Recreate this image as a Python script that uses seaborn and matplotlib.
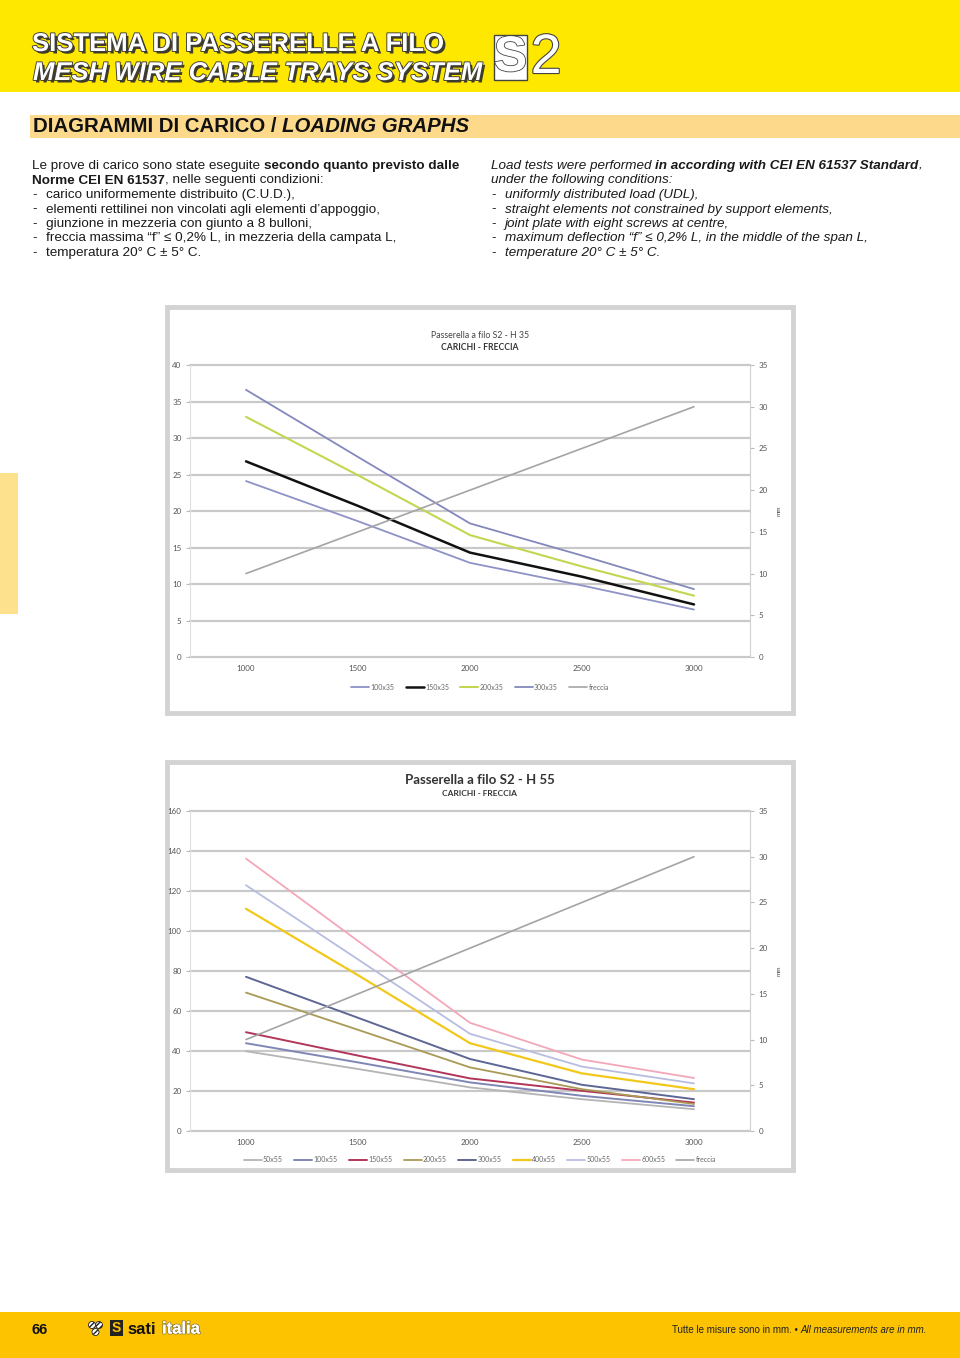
import matplotlib
matplotlib.use("Agg")
import matplotlib.pyplot as plt
import matplotlib.patches as mpatches
import matplotlib.patheffects as pe
import seaborn as sns

# ---------------- data ----------------
spans = [1000, 1500, 2000, 2500, 3000]

# H 35 trays - load (left axis) and deflection "freccia" (right axis, mm)
h35_names = ["100x35", "150x35", "200x35", "300x35"]
h35_100 = [24.1, 18.6, 12.9, 9.8, 6.5]
h35_150 = [26.8, 20.7, 14.3, 11.0, 7.2]
h35_200 = [32.9, 24.9, 16.7, 12.4, 8.4]
h35_300 = [36.6, 27.4, 18.3, 13.9, 9.3]
h35_freccia = [10, 15, 20, 25, 30]
h35_colors = ["#8e92c6", "#111111", "#c4d650", "#8488bc"]

# H 55 trays
h55_names = ["50x55", "100x55", "150x55", "200x55", "300x55", "400x55", "500x55", "600x55"]
h55_50 = [39.9, 31.0, 21.8, 15.9, 10.9]
h55_100 = [43.9, 34.3, 24.3, 17.6, 12.4]
h55_150 = [49.4, 37.7, 26.3, 20.1, 14.2]
h55_200 = [69.2, 50.6, 31.8, 20.9, 13.5]
h55_300 = [77.1, 56.6, 36.0, 23.1, 15.9]
h55_400 = [111.1, 77.9, 43.9, 28.8, 20.9]
h55_500 = [122.9, 85.8, 48.6, 32.2, 23.8]
h55_600 = [136.2, 95.0, 54.1, 35.7, 26.5]
h55_freccia = [10, 15, 20, 25, 30]
h55_colors = ["#b4b4b4", "#7f86b6", "#b2365a", "#a89a55", "#5e6794", "#f2c81a", "#b7bde0", "#f4a7b8"]

W, H = 960, 1358

sns.set_style("white")
plt.rcParams["font.family"] = ["Liberation Sans", "DejaVu Sans"]

fig = plt.figure(figsize=(W / 100, H / 100), dpi=100)
fig.patch.set_facecolor("white")


def fx(x):
    return x / W


def fy(y):
    return 1 - y / H


def box(x0, y0, x1, y1):
    return [x0 / W, 1 - y1 / H, (x1 - x0) / W, (y1 - y0) / H]


def rect(x0, y0, x1, y1, color, **kw):
    kw.setdefault("zorder", -2)
    fig.patches.append(mpatches.Rectangle((fx(x0), fy(y1)), (x1 - x0) / W, (y1 - y0) / H,
                                          transform=fig.transFigure, facecolor=color,
                                          edgecolor="none", **kw))


renderer = fig.canvas.get_renderer()


def rich(x, y, parts, size=9.7, color="#1a1a1a"):
    # draw a line made of pieces with different weight / style
    for s, w, st in parts:
        t = fig.text(fx(x), fy(y), s, fontsize=size, weight=w, style=st,
                     color=color, va="center", ha="left")
        bb = t.get_window_extent(renderer)
        x = bb.x1


# ---------------- page header ----------------
rect(0, 0, 960, 92, "#fee800")
title_fx = [pe.SimplePatchShadow(offset=(1.8, -1.8), shadow_rgbFace="#2a2a2a", alpha=0.9),
            pe.withStroke(linewidth=1.3, foreground="#3a3a3a")]
fig.text(fx(32), fy(44), "SISTEMA DI PASSERELLE A FILO", fontsize=18.5, weight="bold",
         color="white", va="center", path_effects=title_fx)
fig.text(fx(33), fy(73), "MESH WIRE CABLE TRAYS SYSTEM", fontsize=18.5, weight="bold",
         style="italic", color="white", va="center", path_effects=title_fx)
fig.patches.append(mpatches.Rectangle((fx(494), fy(80)), 33 / W, 45 / H, transform=fig.transFigure,
                                      facecolor="white", edgecolor="#444444", linewidth=1.0))
fig.text(fx(510.5), fy(58), "S", fontsize=36, weight="bold", color="white", ha="center",
         va="center", path_effects=[pe.withStroke(linewidth=1.2, foreground="#444444")])
fig.text(fx(546), fy(59), "2", fontsize=40, color="white", ha="center", va="center",
         path_effects=[pe.withStroke(linewidth=1.6, foreground="#444444")])

rect(30, 115, 960, 138, "#fdd98c")
rich(33, 127, [("DIAGRAMMI DI CARICO / ", "heavy", "normal"),
               ("LOADING GRAPHS", "heavy", "italic")], size=14.7, color="#111111")

# ---------------- conditions text ----------------
n, b = "normal", "bold"
ys = [166, 180.5, 195, 209.5, 224, 238.5, 253]
rich(32, ys[0], [("Le prove di carico sono state eseguite ", n, n),
                 ("secondo quanto previsto dalle", b, n)])
rich(32, ys[1], [("Norme CEI EN 61537", b, n), (", nelle seguenti condizioni:", n, n)])
left_items = ["carico uniformemente distribuito (C.U.D.),",
              "elementi rettilinei non vincolati agli elementi d\u2019appoggio,",
              "giunzione in mezzeria con giunto a 8 bulloni,",
              "freccia massima \u201cf\u201d \u2264 0,2% L, in mezzeria della campata L,",
              "temperatura 20\u00b0 C \u00b1 5\u00b0 C."]
for y, s in zip(ys[2:], left_items):
    rich(32, y, [("-", n, n)])
    rich(46, y, [(s, n, n)])

rich(491, ys[0], [("Load tests were performed ", n, "italic"),
                  ("in according with CEI EN 61537 Standard", b, "italic"),
                  (",", n, "italic")])
rich(491, ys[1], [("under the following conditions:", n, "italic")])
right_items = ["uniformly distributed load (UDL),",
               "straight elements not constrained by support elements,",
               "joint plate with eight screws at centre,",
               "maximum deflection \u201cf\u201d \u2264 0,2% L, in the middle of the span L,",
               "temperature 20\u00b0 C \u00b1 5\u00b0 C."]
for y, s in zip(ys[2:], right_items):
    rich(491, y, [("-", n, n)])
    rich(505, y, [(s, n, "italic")])

# side tab
rect(0, 473, 18, 614, "#fee18c")

# ---------------- charts ----------------
chart_font = ["Lato", "DejaVu Sans"]
grid_c = "#c9c9c9"


def chart(frame, area, series, names, colors, freccia, ymax, ystep, title, title_big,
          legend_y, lw_list):
    x0, y0, x1, y1 = frame
    fig.patches.append(mpatches.Rectangle((fx(x0 + 2), fy(y1 - 2)), (x1 - x0 - 4) / W,
                                          (y1 - y0 - 4) / H, transform=fig.transFigure,
                                          facecolor="white", edgecolor="#d3d3d3", linewidth=3.5,
                                          zorder=-1))
    ax = fig.add_axes(box(*area))
    ax.set_facecolor("none")
    for vals, name, c, lw in zip(series, names, colors, lw_list):
        sns.lineplot(x=spans, y=vals, ax=ax, color=c, linewidth=lw, label=name, legend=False)
    ax2 = ax.twinx()
    sns.lineplot(x=spans, y=freccia, ax=ax2, color="#a4a4a4", linewidth=1.2, label="freccia",
                 legend=False)
    ax.set_xlim(750, 3250)
    ax.set_ylim(0, ymax)
    ax2.set_ylim(0, 35)
    ax.set_xticks(spans)
    ax.set_yticks(range(0, ymax + 1, ystep))
    ax2.set_yticks(range(0, 36, 5))
    ax.yaxis.grid(True, color=grid_c, linewidth=1.6)
    ax.set_axisbelow(True)
    for a in (ax, ax2):
        for sp in a.spines.values():
            sp.set_visible(False)
        a.tick_params(labelsize=5.8, labelcolor="#555555", length=0)
        for lab in a.get_xticklabels() + a.get_yticklabels():
            lab.set_family(chart_font)
    ax2.spines["right"].set_visible(True)
    ax2.spines["right"].set_color("#d0d0d0")
    ax.spines["left"].set_visible(True)
    ax.spines["left"].set_color("#e0e0e0")
    ax.tick_params(axis="y", length=3, color="#bbbbbb", pad=3)
    ax2.tick_params(axis="y", length=3, color="#bbbbbb", pad=3)
    ax.tick_params(axis="x", pad=6)
    ax.set_xlabel("")
    ax.set_ylabel("")
    ax2.set_ylabel("mm", fontsize=4.5, color="#444444", family=chart_font, labelpad=6)
    fig.canvas.draw()
    for gl in ax.get_ygridlines():
        gl.set_clip_on(False)

    h1, l1 = ax.get_legend_handles_labels()
    h2, l2 = ax2.get_legend_handles_labels()
    fig.legend(h1 + h2, l1 + l2, loc="center", bbox_to_anchor=(fx((x0 + x1) / 2), fy(legend_y)),
               ncol=len(l1) + 1, frameon=False, prop={"family": chart_font, "size": 5},
               labelcolor="#666666", handlelength=2.6, handletextpad=0.2, columnspacing=1.6)

    t_main, t_sub, ty = title
    if title_big:
        fig.text(fx(480), fy(ty), t_main, fontsize=9.5, weight="bold", color="#333333",
                 ha="center", va="center", family=chart_font)
        fig.text(fx(480), fy(ty + 13.5), t_sub, fontsize=6, weight="bold", color="#333333",
                 ha="center", va="center", family=chart_font)
    else:
        fig.text(fx(480), fy(ty), t_main, fontsize=6.3, color="#444444",
                 ha="center", va="center", family=chart_font)
        fig.text(fx(480), fy(ty + 12), t_sub, fontsize=6.2, weight="bold", color="#333333",
                 ha="center", va="center", family=chart_font)
    return ax


chart((165, 305, 795, 715), (190, 365, 750, 657),
      [h35_100, h35_150, h35_200, h35_300], h35_names, h35_colors, h35_freccia,
      40, 5, ("Passerella a filo S2 - H 35", "CARICHI - FRECCIA", 335), False, 687,
      [1.3, 1.8, 1.5, 1.3])

chart((165, 760, 795, 1172), (190, 811, 750, 1131),
      [h55_50, h55_100, h55_150, h55_200, h55_300, h55_400, h55_500, h55_600],
      h55_names, h55_colors, h55_freccia,
      160, 20, ("Passerella a filo S2 - H 55", "CARICHI - FRECCIA", 780), True, 1160,
      [1.3, 1.4, 1.4, 1.3, 1.4, 1.6, 1.3, 1.3])

# ---------------- footer ----------------
rect(0, 1312, 960, 1358, "#fdc300")
fig.text(fx(32), fy(1330), "66", fontsize=10.5, weight="bold", color="#111111", va="center")
for cx, cy in [(92, 1325), (99, 1325), (95.5, 1332)]:
    fig.patches.append(mpatches.Ellipse((fx(cx), fy(cy)), 7 / W, 7 / H, transform=fig.transFigure,
                                        facecolor="white", edgecolor="#222222", hatch="//////",
                                        linewidth=0.6))
fig.patches.append(mpatches.Rectangle((fx(110), fy(1336)), 13 / W, 16 / H, transform=fig.transFigure,
                                      facecolor="#222222", edgecolor="none"))
fig.text(fx(116.5), fy(1328), "S", fontsize=10, weight="heavy", color="#fdc300", ha="center",
         va="center")
fig.text(fx(127), fy(1329), "sati", fontsize=12, weight="heavy", color="#111111", va="center")
fig.text(fx(162), fy(1329), "italia", fontsize=12, weight="heavy", color="white", va="center",
         path_effects=[pe.withStroke(linewidth=1.2, foreground="#8a7a40"), pe.Normal()])
rich(672, 1330, [("Tutte le misure sono in mm. \u2022 ", n, n),
                 ("All measurements are in mm.", n, "italic")], size=7.0, color="#222222")

fig.savefig("out.png", dpi=100, facecolor="white")
